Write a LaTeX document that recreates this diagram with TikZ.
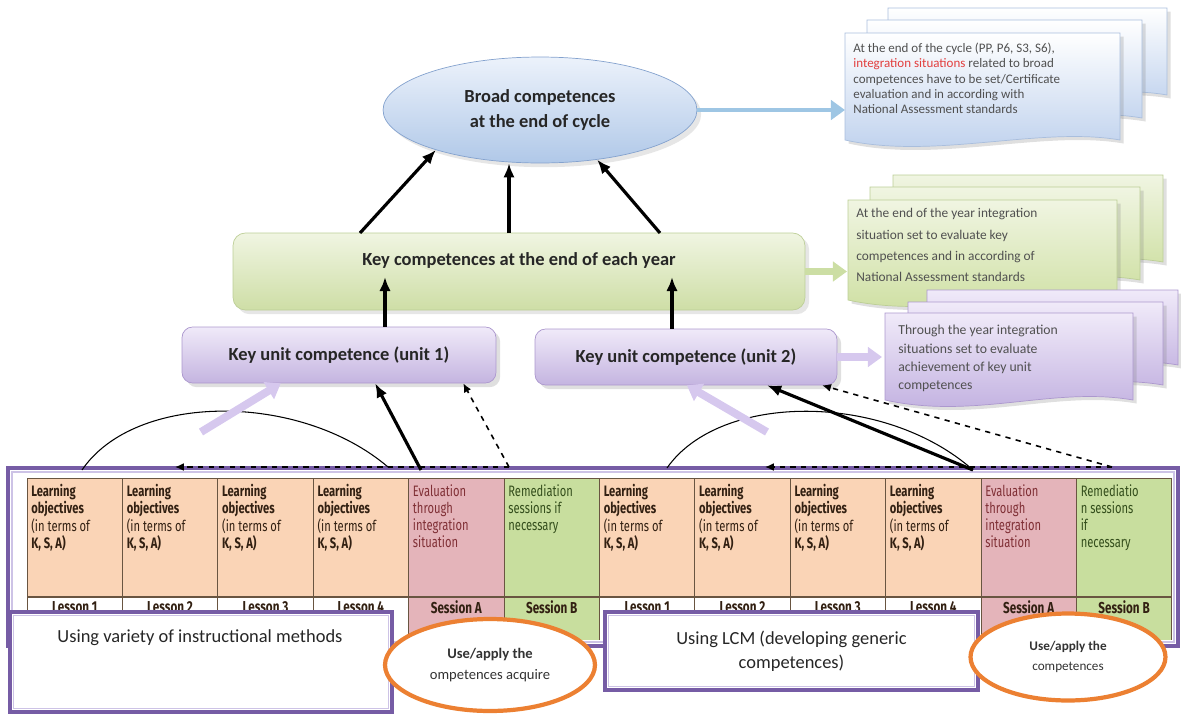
\documentclass[tikz,border=0pt]{standalone}
\usepackage{fontspec}
\setmainfont{Carlito}
\newfontfamily\tabfont[FakeStretch=0.74]{Fira Sans}
\usetikzlibrary{shapes.geometric,arrows.meta,shadows,calc,positioning}

\definecolor{framepurple}{RGB}{118,92,165}
\definecolor{lavline}{RGB}{205,195,230}
\definecolor{unitlight}{RGB}{240,234,249}
\definecolor{unitdark}{RGB}{196,180,224}
\definecolor{unitborder}{RGB}{172,152,206}
\definecolor{keylight}{RGB}{240,245,226}
\definecolor{keydark}{RGB}{206,222,166}
\definecolor{keyborder}{RGB}{188,206,150}
\definecolor{broadlight}{RGB}{236,242,251}
\definecolor{broaddark}{RGB}{176,200,232}
\definecolor{broadborder}{RGB}{132,162,206}
\definecolor{lopeach}{RGB}{250,212,182}
\definecolor{evalpink}{RGB}{228,180,186}
\definecolor{remgreen}{RGB}{200,222,158}
\definecolor{cellline}{RGB}{105,85,65}
\definecolor{lotext}{RGB}{50,32,18}
\definecolor{evaltext}{RGB}{128,48,54}
\definecolor{remtext}{RGB}{52,78,28}
\definecolor{ringorange}{RGB}{236,128,50}
\definecolor{notegrey}{RGB}{80,80,80}
\definecolor{notered}{RGB}{226,62,62}
\definecolor{bluearrow}{RGB}{158,198,228}
\definecolor{greenarrow}{RGB}{204,222,164}
\definecolor{purplearrow}{RGB}{214,200,238}
\definecolor{bluesheetdark}{RGB}{186,206,236}
\definecolor{greensheetdark}{RGB}{204,222,158}
\definecolor{purplesheetdark}{RGB}{190,172,222}

% one sheet of a note stack, wavy bottom edge
\newcommand{\docsheet}[5]{%
  \draw[#1] (#2,#3) -- (#4,#3) -- (#4,#5)
    .. controls +(-80,-14) and +(90,20) .. (#2,#5) -- cycle;}

\begin{document}
\begin{tikzpicture}[x=0.02cm, y=-0.02cm,
    labeltext/.style={font=\fontsize{10.5}{14}\selectfont\bfseries, text=black!85},
    broadnode/.style={ellipse, draw=broadborder, top color=broadlight, bottom color=broaddark,
      align=center, labeltext, drop shadow={opacity=0.2}},
    keynode/.style={draw=keyborder, rounded corners=7pt, top color=keylight, bottom color=keydark,
      drop shadow={opacity=0.2}},
    unitnode/.style={draw=unitborder, rounded corners=6pt, top color=unitlight, bottom color=unitdark,
      minimum height=1.12cm, labeltext, drop shadow={opacity=0.25}},
    hdtext/.style={anchor=north west, inner sep=0pt, align=left, text=lotext,
      font=\tabfont\fontsize{8.6}{9.8}\selectfont},
    lessontext/.style={inner sep=0pt, text=lotext, font=\tabfont\bfseries\fontsize{9}{10}\selectfont},
    methodbox/.style={draw=framepurple, line width=2pt, fill=white},
    boxtext/.style={font=\fontsize{10.5}{13.5}\selectfont, text=black!85},
    usering/.style={ellipse, draw=ringorange, line width=2.4pt, fill=white, align=center,
      inner sep=0pt, text=black!80},
    notetext/.style={anchor=north west, inner sep=0pt, align=left, text=notegrey},
    bluesheet/.style={draw=broadborder!70, top color=white, bottom color=bluesheetdark,
      drop shadow={opacity=0.25, shadow xshift=2pt, shadow yshift=-2pt}},
    greensheet/.style={draw=keyborder, top color=keylight, bottom color=greensheetdark,
      drop shadow={opacity=0.25, shadow xshift=2pt, shadow yshift=-2pt}},
    purplesheet/.style={draw=unitborder, top color=unitlight, bottom color=purplesheetdark,
      drop shadow={opacity=0.25, shadow xshift=2pt, shadow yshift=-2pt}},
    thickarrow/.style={line width=1.8pt, -{Latex[length=8pt,width=6.5pt]}},
    dasharrow/.style={dashed, line width=0.9pt, -{Latex[length=5pt,width=4.5pt]}},
    hollowarrow/.style={line width=4.5pt, draw=purplearrow, -{Triangle[length=8pt,width=11pt]}},
    blockarrow/.style={line width=3.5pt, -{Triangle[length=8pt,width=11pt]}}]

  \useasboundingbox (0,0) rectangle (1181,718);

  % Lesson table frame
  \draw[framepurple, line width=2.2pt, fill=white] (8,468) rectangle (1178,646);
  \draw[lavline, line width=0.8pt] (12,472) rectangle (1174,642);

  % Header cells and session cells
  \foreach \c/\cellcol in {0/lopeach,1/lopeach,2/lopeach,3/lopeach,4/evalpink,5/remgreen,
      6/lopeach,7/lopeach,8/lopeach,9/lopeach,10/evalpink,11/remgreen}
    \fill[\cellcol] ({27+\c*95.4},478) rectangle ({27+(\c+1)*95.4},597);
  \foreach \c/\cellcol in {4/evalpink,5/remgreen,10/evalpink,11/remgreen}
    \fill[\cellcol] ({27+\c*95.4},597) rectangle ({27+(\c+1)*95.4},640);

  % Grid lines
  \draw[cellline, line width=0.5pt] (27,478) -- (1172,478);
  \draw[cellline, line width=0.9pt] (27,597) -- (1172,597);
  \foreach \c in {0,...,12}
    \draw[cellline, line width=0.5pt] ({27+\c*95.4},478) -- ({27+\c*95.4},640);

  % Cell texts
  \foreach \c in {0,1,2,3,6,7,8,9}
    \node[hdtext] (hd\c) at ({31+\c*95.4},484)
      {\textbf{Learning}\\\textbf{objectives}\\(in terms of\\\textbf{K, S, A)}};
  \node[hdtext, text=evaltext] (hd4) at ({31+4*95.4},484) {Evaluation\\through\\integration\\situation};
  \node[hdtext, text=remtext] (hd5) at ({31+5*95.4},484) {Remediation\\sessions if\\necessary};
  \node[hdtext, text=evaltext] (hd10) at ({31+10*95.4},484) {Evaluation\\through\\integration\\situation};
  \node[hdtext, text=remtext] (hd11) at ({31+11*95.4},484) {Remediatio\\n sessions\\if\\necessary};

  \foreach \c/\lbl in {0/Lesson 1,1/Lesson 2,2/Lesson 3,3/Lesson 4,4/Session A,5/Session B,
      6/Lesson 1,7/Lesson 2,8/Lesson 3,9/Lesson 4,10/Session A,11/Session B}
    \node[lessontext] (ls\c) at ({27+(\c+0.5)*95.4},607) {\lbl};

  % Method boxes
  \node[methodbox, minimum width=7.64cm, minimum height=2cm] (varbox) at (201,662) {};
  \draw[lavline, line width=0.8pt] ([shift={(3pt,-3pt)}]varbox.north west)
    rectangle ([shift={(-3pt,3pt)}]varbox.south east);
  \node[boxtext] (vartext) at (200,638) {Using variety of instructional methods};

  \node[methodbox, minimum width=7.46cm, minimum height=1.56cm, boxtext, align=center] (lcmbox)
    at (791.5,651) {Using LCM (developing generic\\competences)};
  \draw[lavline, line width=0.8pt] ([shift={(3pt,-3pt)}]lcmbox.north west)
    rectangle ([shift={(-3pt,3pt)}]lcmbox.south east);

  % Use/apply rings
  \node[usering, minimum width=4.2cm, minimum height=1.84cm, font=\fontsize{8.3}{12}\selectfont]
    (use1) at (490,665) {\textbf{Use/apply the}\\ompetences acquire};
  \node[usering, minimum width=3.9cm, minimum height=1.74cm, font=\fontsize{7.5}{11}\selectfont]
    (use2) at (1068,657) {\textbf{Use/apply the}\\competences};

  % Competence boxes
  \node[keynode, minimum width=11.44cm, minimum height=1.54cm] (keybox) at (519,271.5) {};
  \node[labeltext] (keytext) at (519,260) {Key competences at the end of each year};
  \node[unitnode, minimum width=6.28cm] (unit1) at (339,355) {Key unit competence (unit 1)};
  \node[unitnode, minimum width=6.04cm] (unit2) at (686,357) {Key unit competence (unit 2)};
  \node[broadnode, minimum width=6.28cm, minimum height=2.12cm] (broad) at (540,110)
    {Broad competences\\at the end of cycle};

  % Key competences up to broad competences
  \coordinate (kL) at (360,233);
  \coordinate (kM) at (509,233);
  \coordinate (kR) at (660,233);
  \draw[thickarrow] (kL) -- (broad.201);
  \draw[thickarrow] (kM) -- (kM |- broad.south);
  \draw[thickarrow] (kR) -- (broad.319);

  % Unit competences up to key competences
  \coordinate (u1head) at (385,277);
  \coordinate (u2head) at (672,277);
  \draw[thickarrow] (u1head |- unit1.north) -- (u1head);
  \draw[thickarrow] (u2head |- unit2.north) -- (u2head);

  % Lessons of unit 1
  \coordinate (arcL1) at (82,470);
  \coordinate (arcL2) at (388,467);
  \draw[line width=0.6pt] (arcL1) .. controls (135,392) and (300,392) .. (arcL2);
  \coordinate (evalL) at (509,467);
  \coordinate (backL) at (175,467);
  \coordinate (lessL) at (421,470);
  \coordinate (methL) at (201,432);
  \draw[dasharrow] (evalL) -- (backL);
  \draw[dasharrow] (evalL) -- ($(unit1.south west)!0.895!(unit1.south east)$);
  \draw[thickarrow] (lessL) -- ($(unit1.south west)!0.615!(unit1.south east)$);
  \draw[hollowarrow] (methL) -- ($(unit1.south west)!0.315!(unit1.south east)$);

  % Lessons of unit 2
  \coordinate (arcR1) at (667,468);
  \coordinate (arcR2) at (973,470);
  \draw[line width=0.6pt] (arcR1) .. controls (720,392) and (885,392) .. (arcR2);
  \coordinate (evalR) at (1112,467);
  \coordinate (backR) at (765,467);
  \coordinate (methR) at (767,432);
  \draw[dasharrow] (evalR) -- (backR);
  \draw[dasharrow] (evalR) -- ($(unit2.south west)!0.95!(unit2.south east)$);
  \draw[thickarrow] (arcR2) -- ($(unit2.south west)!0.768!(unit2.south east)$);
  \draw[hollowarrow] (methR) -- ($(unit2.south west)!0.503!(unit2.south east)$);

  % Blue note stack
  \docsheet{bluesheet}{888}{8}{1167}{95}
  \docsheet{bluesheet}{867}{20}{1142}{118}
  \docsheet{bluesheet}{845}{33}{1120}{140}
  \node[notetext, font=\fontsize{7.4}{8.6}\selectfont] (bluenote) at (853,43)
    {At the end of the cycle (PP, P6, S3, S6),\\
     {\color{notered}integration situations} related to broad\\
     competences have to be set/Certificate\\
     evaluation and in according with\\
     National Assessment standards};

  % Green note stack
  \docsheet{greensheet}{893}{175}{1163}{262}
  \docsheet{greensheet}{870}{187}{1140}{280}
  \docsheet{greensheet}{848}{200}{1117}{300}
  \node[notetext, font=\fontsize{7.6}{12.2}\selectfont] (greennote) at (856,208)
    {At the end of the year integration\\
     situation set to evaluate key\\
     competences and in according of\\
     National Assessment standards};

  % Purple note stack
  \docsheet{purplesheet}{927}{290}{1178}{365}
  \docsheet{purplesheet}{908}{302}{1163}{385}
  \docsheet{purplesheet}{885}{313}{1133}{400}
  \node[notetext, font=\fontsize{7.8}{10.4}\selectfont] (purplenote) at (898,325)
    {Through the year integration\\
     situations set to evaluate\\
     achievement of key unit\\
     competences};

  % Block arrows to the notes
  \coordinate (bluedoc) at (845,110);
  \coordinate (greendoc) at (847,271.5);
  \coordinate (purpledoc) at (882,357);
  \draw[blockarrow, draw=bluearrow, line width=2.8pt] (broad.east) -- (bluedoc);
  \draw[blockarrow, draw=greenarrow] (keybox.east) -- (greendoc);
  \draw[blockarrow, draw=purplearrow, line width=4.5pt] (unit2.east) -- (purpledoc);
\end{tikzpicture}
\end{document}
